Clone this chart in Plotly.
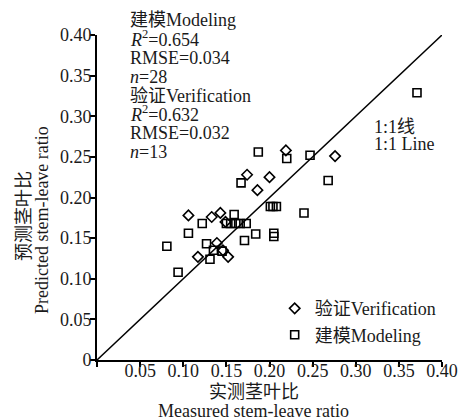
import plotly.graph_objects as go

# Modeling (建模) points
modeling_x = [0.371, 0.187, 0.220, 0.247, 0.167, 0.268, 0.201, 0.204, 0.208, 0.240,
              0.205, 0.205, 0.184, 0.171, 0.159, 0.173, 0.150, 0.155, 0.161, 0.166,
              0.122, 0.106, 0.081, 0.127, 0.135, 0.145, 0.131, 0.094]
modeling_y = [0.329, 0.256, 0.248, 0.252, 0.218, 0.221, 0.189, 0.189, 0.189, 0.181,
              0.156, 0.152, 0.155, 0.147, 0.179, 0.168, 0.168, 0.168, 0.168, 0.168,
              0.168, 0.156, 0.140, 0.143, 0.135, 0.134, 0.124, 0.108]

# Verification (验证) points
verif_x = [0.219, 0.276, 0.174, 0.200, 0.186, 0.106, 0.133, 0.143, 0.149, 0.139, 0.117, 0.152, 0.146]
verif_y = [0.258, 0.251, 0.228, 0.225, 0.209, 0.178, 0.176, 0.181, 0.170, 0.144, 0.127, 0.127, 0.135]

line_x = [0, 0.40]
line_y = [0, 0.40]

tick_vals = [0, 0.05, 0.10, 0.15, 0.20, 0.25, 0.30, 0.35, 0.40]
x_tick_text = ["", "0.05", "0.10", "0.15", "0.20", "0.25", "0.30", "0.35", "0.40"]
y_tick_text = ["0", "0.05", "0.10", "0.15", "0.20", "0.25", "0.30", "0.35", "0.40"]

stats_lines = ["建模Modeling", "<i>R</i><sup>2</sup>=0.654", "RMSE=0.034", "<i>n</i>=28",
               "验证Verification", "<i>R</i><sup>2</sup>=0.632", "RMSE=0.032", "<i>n</i>=13"]
line_label = ["1:1线", "1:1 Line"]
x_title = ["实测茎叶比", "Measured stem-leave ratio"]
y_title = ["预测茎叶比", "Predicted stem-leave ratio"]

FONT = "Liberation Serif, Times New Roman, Noto Sans CJK SC, serif"
TXT = "#1a1a1a"
FS = 18

fig = go.Figure()
fig.add_trace(go.Scatter(x=line_x, y=line_y, mode="lines",
                         line=dict(color="black", width=1.5), showlegend=False,
                         hoverinfo="skip"))
fig.add_trace(go.Scatter(x=verif_x, y=verif_y, mode="markers", name="验证Verification",
                         marker=dict(symbol="diamond-open", size=8, color="black",
                                     line=dict(width=1.6, color="black"))))
fig.add_trace(go.Scatter(x=modeling_x, y=modeling_y, mode="markers", name="建模Modeling",
                         marker=dict(symbol="square-open", size=8, color="black",
                                     line=dict(width=1.6, color="black"))))

axis_common = dict(range=[0, 0.40], showline=True, linecolor="black", linewidth=2,
                   ticks="outside", ticklen=5, tickwidth=1.5, tickcolor="black",
                   showgrid=False, zeroline=False, tickvals=tick_vals, automargin=False,
                   tickfont=dict(family=FONT, size=FS, color=TXT))

fig.update_xaxes(**axis_common, ticktext=x_tick_text, ticklabelstandoff=-12)
fig.update_yaxes(**axis_common, ticktext=y_tick_text, ticklabelstandoff=-5)

annotations = []
stats_y = [1.046, 0.988, 0.929, 0.871, 0.812, 0.757, 0.698, 0.640]
for txt, yy in zip(stats_lines, stats_y):
    annotations.append(dict(text=txt, xref="paper", yref="paper", x=0.09, y=yy,
                            xanchor="left", yanchor="middle", showarrow=False,
                            font=dict(family=FONT, size=FS, color=TXT)))
for txt, yy in zip(line_label, [0.717, 0.665]):
    annotations.append(dict(text=txt, xref="paper", yref="paper", x=0.797, y=yy,
                            xanchor="left", yanchor="middle", showarrow=False,
                            font=dict(family=FONT, size=FS, color=TXT)))
for txt, yy in zip(x_title, [-0.098, -0.158]):
    annotations.append(dict(text=txt, xref="paper", yref="paper", x=0.455, y=yy,
                            xanchor="center", yanchor="middle", showarrow=False,
                            font=dict(family=FONT, size=FS, color=TXT)))
for txt, xx, yy in zip(y_title, [-0.212, -0.159], [0.443, 0.431]):
    annotations.append(dict(text=txt, xref="paper", yref="paper", x=xx, y=yy,
                            xanchor="center", yanchor="middle", textangle=-90,
                            showarrow=False, font=dict(family=FONT, size=FS, color=TXT)))

fig.update_layout(
    width=450, height=411,
    margin=dict(l=89, r=16, t=27, b=59),
    paper_bgcolor="white", plot_bgcolor="white",
    font=dict(family=FONT, size=FS, color=TXT),
    legend=dict(x=0.515, y=0.215, xanchor="left", yanchor="top",
                bgcolor="rgba(0,0,0,0)", font=dict(family=FONT, size=FS, color=TXT)),
    annotations=annotations,
)

fig.write_html("out.html")
